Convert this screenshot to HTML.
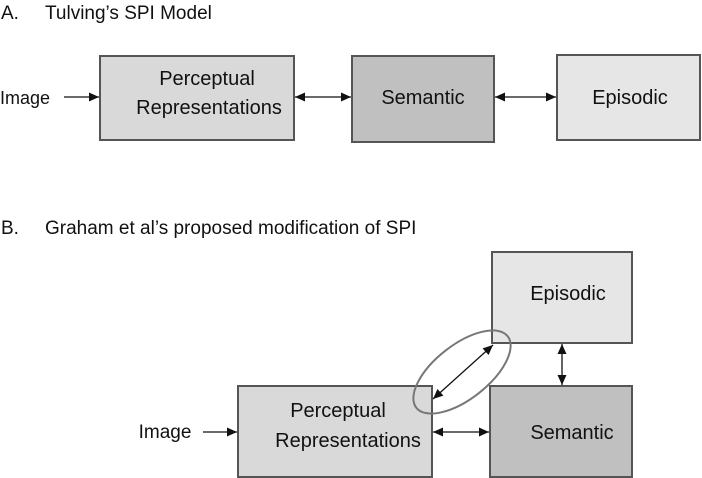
<!DOCTYPE html>
<html><head><meta charset="utf-8"><style>
html,body{margin:0;padding:0;background:#fff;}
svg{display:block;}
text{font-family:"Liberation Sans",Arial,sans-serif;fill:#111;}
</style></head><body>
<svg width="702" height="478" viewBox="0 0 702 478" xmlns="http://www.w3.org/2000/svg">
<defs>
<marker id="a" viewBox="0 0 10 10" refX="10" refY="5" markerWidth="12" markerHeight="10" markerUnits="userSpaceOnUse" orient="auto-start-reverse"><path d="M0,0.5 L10,5 L0,9.5 z" fill="#111"/></marker>
</defs>
<g font-size="19">
<text x="1" y="19">A.</text><text x="45" y="19">Tulving’s SPI Model</text>
<text x="1" y="234">B.</text><text x="45" y="234">Graham et al’s proposed modification of SPI</text>
</g>
<g stroke="#555" stroke-width="2">
<rect x="100" y="56" width="194" height="84" fill="#d9d9d9"/>
<rect x="352" y="56" width="142" height="86" fill="#c0c0c0"/>
<rect x="557" y="55" width="143" height="85" fill="#e6e6e6"/>
<rect x="492" y="252" width="140" height="91" fill="#e6e6e6"/>
<rect x="238" y="386" width="194" height="91" fill="#d9d9d9"/>
<rect x="490" y="386" width="142" height="91" fill="#c0c0c0"/>
</g>
<text x="0" y="104" font-size="18">Image</text>
<g font-size="20" text-anchor="middle">
<text x="207" y="85">Perceptual</text>
<text x="209" y="114">Representations</text>
<text x="423" y="104">Semantic</text>
<text x="630" y="104">Episodic</text>
<text x="165" y="438" font-size="19">Image</text>
<text x="338" y="417">Perceptual</text>
<text x="348" y="447">Representations</text>
<text x="568" y="300">Episodic</text>
<text x="572" y="439">Semantic</text>
</g>
<g stroke="#111" stroke-width="1.3" fill="none">
<line x1="64" y1="97" x2="99" y2="97" marker-end="url(#a)"/>
<line x1="295" y1="97" x2="351" y2="97" marker-start="url(#a)" marker-end="url(#a)"/>
<line x1="495" y1="97" x2="556" y2="97" marker-start="url(#a)" marker-end="url(#a)"/>
<line x1="203" y1="432" x2="237" y2="432" marker-end="url(#a)"/>
<line x1="433" y1="432" x2="489" y2="432" marker-start="url(#a)" marker-end="url(#a)"/>
<line x1="562" y1="344" x2="562" y2="385" marker-start="url(#a)" marker-end="url(#a)"/>
<line x1="433" y1="399" x2="493" y2="345" marker-start="url(#a)" marker-end="url(#a)"/>
</g>
<ellipse cx="462" cy="372" rx="58" ry="27" transform="rotate(-38 462 372)" fill="none" stroke="#777" stroke-width="2"/>
</svg>
</body></html>
